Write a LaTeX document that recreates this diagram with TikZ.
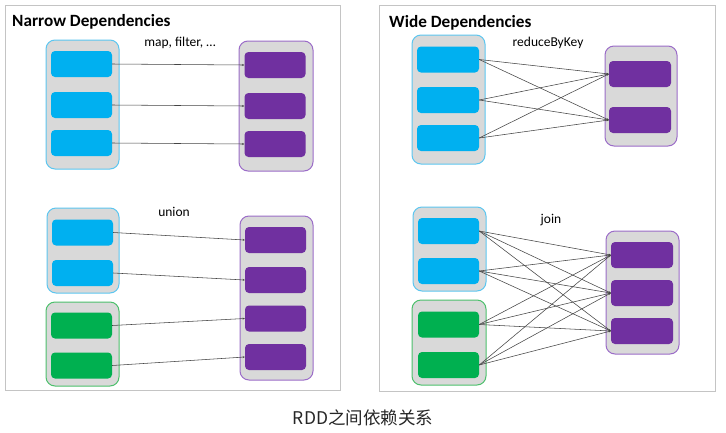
\documentclass[tikz,border=0pt]{standalone}
\usepackage{fontspec}
\setmainfont{Carlito}
\newfontfamily\cjkfont{Noto Sans CJK SC}
\usetikzlibrary{arrows.meta}
\definecolor{cblue}{HTML}{00B0F0}
\definecolor{cpurple}{HTML}{7030A0}
\definecolor{cgreen}{HTML}{00B050}
\definecolor{cgray}{HTML}{D9D9D9}
\definecolor{bblue}{HTML}{5CC6F0}
\definecolor{bpurple}{HTML}{9B6CC8}
\definecolor{bgreen}{HTML}{4CC06C}
\definecolor{frame}{HTML}{C4C4C4}
\definecolor{link}{HTML}{454545}
\tikzset{
  cont/.style={draw, fill=cgray, rounded corners=9pt, line width=1pt, inner sep=0pt},
  part/.style={draw=none, rounded corners=4pt, inner sep=0pt, minimum width=61pt, minimum height=26pt},
  bpart/.style={part, fill=cblue},
  ppart/.style={part, fill=cpurple},
  gpart/.style={part, fill=cgreen},
  dep/.style={draw=link, line width=0.55pt, -{Stealth[length=2.2pt,width=2pt]}},
  panel/.style={draw=frame, line width=1pt, fill=white},
  ttl/.style={font=\bfseries\fontsize{17.2}{19}\selectfont, anchor=west, inner sep=0pt},
  lbl/.style={font=\fontsize{13.5}{15}\selectfont, inner sep=0pt}
}
\begin{document}
\begin{tikzpicture}[x=1pt,y=-1pt]
\useasboundingbox (0,0) rectangle (726,432);
\fill[white] (0,0) rectangle (726,432);
% panels
\draw[panel] (5,5) rectangle (340,390);
\draw[panel] (379,5) rectangle (715,391);
\node[ttl] (t1) at (12,22) {Narrow Dependencies};
\node[ttl] (t2) at (389,23) {Wide Dependencies};
\node[lbl] (l1) at (180,43) {map, filter, \dots};
\node[lbl] (l2) at (174,212) {union};
\node[lbl] (l3) at (548,43) {reduceByKey};
\node[lbl] (l4) at (551,220) {join};
\node[font=\cjkfont\fontsize{17.5}{20}\selectfont, inner sep=0pt, text=black!85] (cap) at (363,418) {RDD之间依赖关系};

% ---- Narrow: map ----
\node[cont, draw=bblue, minimum width=73pt, minimum height=129pt] (LB1) at (82.5,104.5) {};
\node[cont, draw=bpurple, minimum width=74pt, minimum height=130pt] (LP1) at (276,106) {};
\node[bpart] (a1) at (81.5,64) {};
\node[bpart] (a2) at (81.5,105) {};
\node[bpart] (a3) at (81.5,143) {};
\node[ppart] (p1) at (275,65) {};
\node[ppart] (p2) at (275,106) {};
\node[ppart] (p3) at (275,144) {};
\draw[dep] (a1.east) -- (p1.west);
\draw[dep] (a2.east) -- (p2.west);
\draw[dep] (a3.east) -- (p3.west);

% ---- Narrow: union ----
\node[cont, draw=bblue, minimum width=72pt, minimum height=85pt] (LB2) at (83,250.5) {};
\node[cont, draw=bgreen, minimum width=73pt, minimum height=84pt] (LG2) at (82.5,344) {};
\node[cont, draw=bpurple, minimum width=73pt, minimum height=164pt] (LP2) at (276.5,298) {};
\node[bpart] (u1) at (82.5,232.5) {};
\node[bpart] (u2) at (82.5,273) {};
\node[gpart] (u3) at (81.5,325.5) {};
\node[gpart] (u4) at (81.5,365.5) {};
\node[ppart] (q1) at (275.5,240) {};
\node[ppart] (q2) at (275.5,280) {};
\node[ppart] (q3) at (275.5,318.5) {};
\node[ppart] (q4) at (275.5,357) {};
\draw[dep] (u1.east) -- (q1.west);
\draw[dep] (u2.east) -- (q2.west);
\draw[dep] (u3.east) -- (q3.west);
\draw[dep] (u4.east) -- (q4.west);

% ---- Wide: reduceByKey ----
\node[cont, draw=bblue, minimum width=73pt, minimum height=129pt] (RB1) at (448.5,99.5) {};
\node[cont, draw=bpurple, minimum width=72pt, minimum height=100pt] (RP1) at (641,96) {};
\node[bpart, minimum width=62pt] (r1) at (448,59.5) {};
\node[bpart, minimum width=62pt] (r2) at (448,100) {};
\node[bpart, minimum width=62pt] (r3) at (448,138) {};
\node[ppart, minimum width=62pt] (s1) at (640,74) {};
\node[ppart, minimum width=62pt] (s2) at (640,120) {};
\foreach \i in {r1,r2,r3}{
  \foreach \j in {s1,s2}{
    \draw[dep] (\i.east) -- (\j.west);
  }
}

% ---- Wide: join ----
\node[cont, draw=bblue, minimum width=73pt, minimum height=84pt] (RB2) at (449.5,249) {};
\node[cont, draw=bgreen, minimum width=74pt, minimum height=85pt] (RG2) at (449,342.5) {};
\node[cont, draw=bpurple, minimum width=73pt, minimum height=123pt] (RP2) at (642.5,292.5) {};
\node[bpart] (j1) at (448.5,231) {};
\node[bpart] (j2) at (448.5,271) {};
\node[gpart] (j3) at (448.5,324.5) {};
\node[gpart] (j4) at (448.5,365) {};
\node[ppart, minimum width=62pt] (k1) at (642,255) {};
\node[ppart, minimum width=62pt] (k2) at (642,293) {};
\node[ppart, minimum width=62pt] (k3) at (642,331) {};
\foreach \i in {j1,j2,j3,j4}{
  \foreach \j in {k1,k2,k3}{
    \draw[dep] (\i.east) -- (\j.west);
  }
}
\end{tikzpicture}
\end{document}
